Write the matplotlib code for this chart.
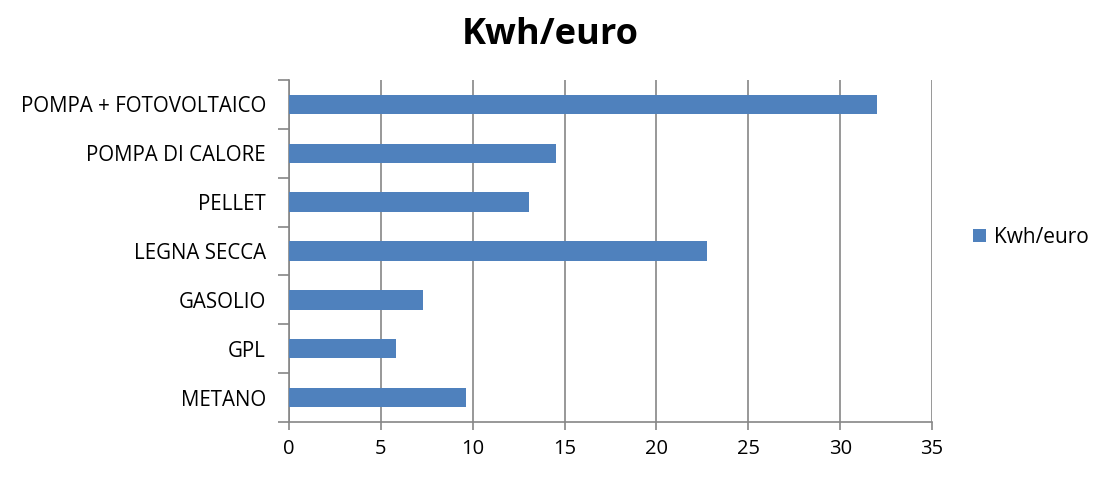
import numpy as np
import matplotlib.pyplot as plt
from matplotlib.ticker import FixedLocator, NullFormatter

categories = ["METANO", "GPL", "GASOLIO", "LEGNA SECCA", "PELLET",
              "POMPA DI CALORE", "POMPA + FOTOVOLTAICO"]
values = [9.65, 5.8, 7.3, 22.75, 13.05, 14.55, 32.0]
series_name = "Kwh/euro"
x_ticks = [0, 5, 10, 15, 20, 25, 30, 35]

plt.rcParams['font.family'] = ['Open Sans', 'DejaVu Sans']
grey = '#868686'

fig = plt.figure(figsize=(11.08, 4.83), dpi=100)
ax = fig.add_axes([0.2608, 0.1263, 0.5804, 0.7081])

y = np.arange(len(categories))
ax.barh(y, values, height=0.4, color='#4F81BD', label=series_name, zorder=3)

ax.set_xlim(0, 35)
ax.set_ylim(-0.5, len(categories) - 0.5)
ax.set_xticks(x_ticks)
ax.set_xticklabels([str(t) for t in x_ticks], fontsize=14.5)
ax.set_yticks(y)
ax.set_yticklabels(categories, fontsize=14.8)
ax.tick_params(axis='y', length=0, pad=16.5)
ax.yaxis.set_minor_locator(FixedLocator(np.arange(-0.5, len(categories), 1)))
ax.yaxis.set_minor_formatter(NullFormatter())
ax.tick_params(axis='y', which='minor', length=8, color=grey, width=1.2)
ax.tick_params(axis='x', length=6, color=grey, width=1.2, pad=6)

ax.grid(axis='x', color=grey, linewidth=1.2, zorder=0)
for s in ['top', 'right']:
    ax.spines[s].set_visible(False)
for s in ['left', 'bottom']:
    ax.spines[s].set_color(grey)
    ax.spines[s].set_linewidth(1.2)

fig.suptitle(series_name, x=0.497, y=0.965, fontsize=26, fontweight='bold')
fig.legend(loc='center left', bbox_to_anchor=(0.8615, 0.508), frameon=False,
           fontsize=15, handlelength=0.6, handleheight=0.6, handletextpad=0.4)

fig.savefig('out.png', dpi=100)
